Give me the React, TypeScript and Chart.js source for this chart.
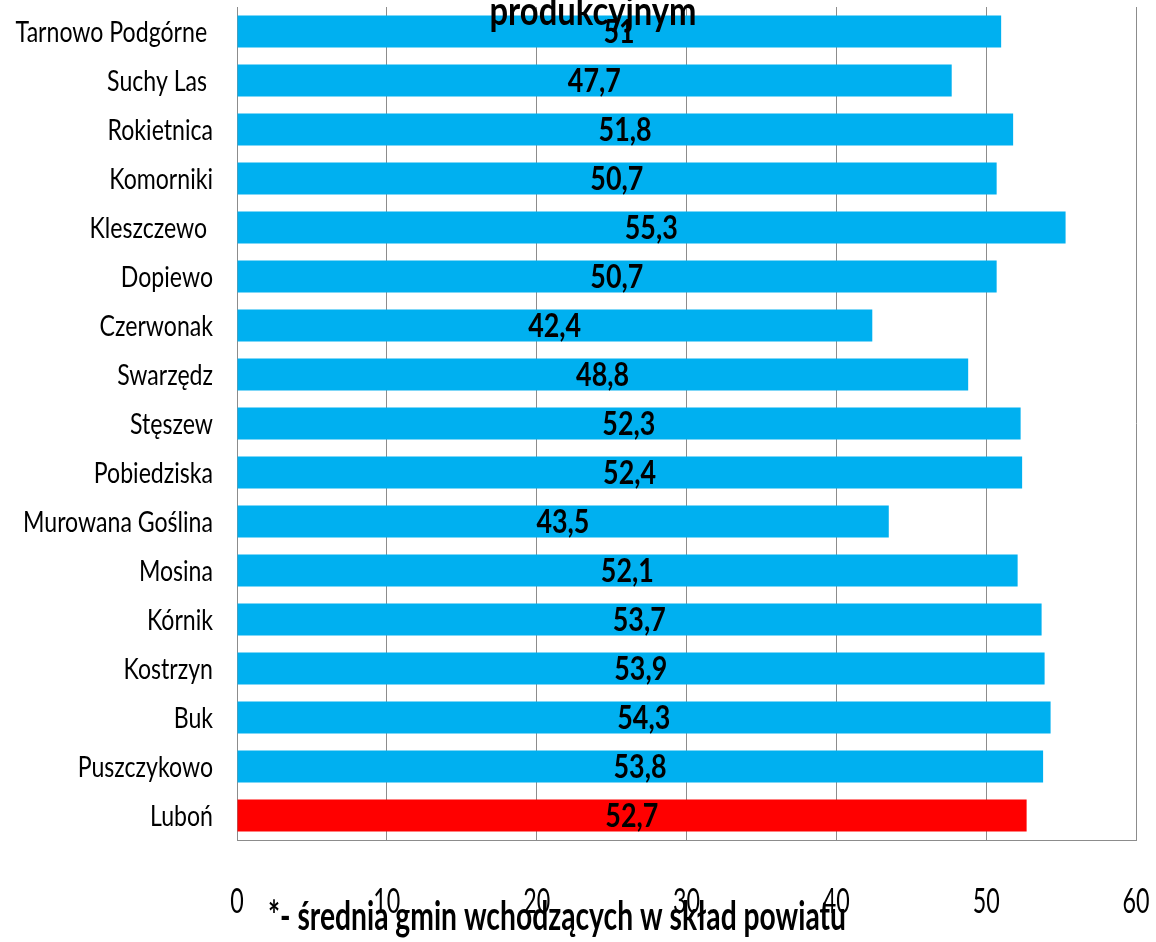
import React, { useEffect, useRef } from "react";
import { Chart, registerables } from "chart.js";

Chart.register(...registerables);

const categories = [
  "Tarnowo Podgórne ",
  "Suchy Las ",
  "Rokietnica",
  "Komorniki",
  "Kleszczewo ",
  "Dopiewo",
  "Czerwonak",
  "Swarzędz",
  "Stęszew",
  "Pobiedziska",
  "Murowana Goślina",
  "Mosina",
  "Kórnik",
  "Kostrzyn",
  "Buk",
  "Puszczykowo",
  "Luboń",
];

const values = [51, 47.7, 51.8, 50.7, 55.3, 50.7, 42.4, 48.8, 52.3, 52.4, 43.5, 52.1, 53.7, 53.9, 54.3, 53.8, 52.7];

const highlighted = "Luboń";
const titleText = "produkcyjnym";
const footerText = "*- średnia gmin wchodzących w skład powiatu";
const xMin = 0;
const xMax = 60;
const xStep = 10;

const FONT = "Lato, 'Noto Sans', sans-serif";

const fmt = (v: number) => String(v).replace(".", ",");

// draw text horizontally condensed so that the sample string gets the target width
function squishFactor(ctx: CanvasRenderingContext2D, font: string, sample: string, target: number) {
  ctx.save();
  ctx.font = font;
  const w = ctx.measureText(sample).width;
  ctx.restore();
  return w > 0 ? target / w : 1;
}

function drawSquished(
  ctx: CanvasRenderingContext2D,
  text: string,
  x: number,
  y: number,
  font: string,
  sx: number,
  align: CanvasTextAlign
) {
  ctx.save();
  ctx.font = font;
  ctx.textAlign = align;
  ctx.textBaseline = "alphabetic";
  ctx.translate(x, y);
  ctx.scale(sx, 1);
  ctx.fillText(text, 0, 0);
  ctx.restore();
}

const textPlugin = {
  id: "texts",
  afterDatasetsDraw(chart: any) {
    const ctx: CanvasRenderingContext2D = chart.ctx;
    const meta = chart.getDatasetMeta(0);
    const xs = chart.scales.x;
    const ys = chart.scales.y;
    ctx.save();
    ctx.fillStyle = "#000";

    // value labels in bar centres
    const vFont = `bold 32px ${FONT}`;
    const vs = squishFactor(ctx, vFont, "47,7", 53);
    meta.data.forEach((bar: any, i: number) => {
      const x0 = xs.getPixelForValue(0);
      drawSquished(ctx, fmt(values[i]), (bar.x + x0) / 2, bar.y + 11.5, vFont, vs, "center");
    });

    // category labels
    const cFont = `29px ${FONT}`;
    const cs = squishFactor(ctx, cFont, "Murowana Goślina", 190);
    ys.ticks.forEach((t: any, i: number) => {
      const y = ys.getPixelForTick(i);
      drawSquished(ctx, String(ys.getLabelForValue(t.value)), ys.right - 24, y + 10.5, cFont, cs, "right");
    });

    // x tick labels
    const tFont = `35px ${FONT}`;
    const ts = squishFactor(ctx, tFont, "50", 27);
    xs.ticks.forEach((t: any, i: number) => {
      const x = xs.getPixelForTick(i);
      drawSquished(ctx, String(t.value), x, 913, tFont, ts, "center");
    });

    // title fragment (cut off at the top) and footnote
    const hFont = `bold 40px ${FONT}`;
    drawSquished(ctx, titleText, 593, 25, hFont, squishFactor(ctx, hFont, titleText, 207), "center");
    const fFont = `bold 40px ${FONT}`;
    drawSquished(ctx, footerText, 268, 930, fFont, squishFactor(ctx, fFont, footerText, 578), "left");
    ctx.restore();
  },
};

export default function App() {
  const ref = useRef<HTMLCanvasElement>(null);
  useEffect(() => {
    document.body.style.margin = "0";
    const chart = new Chart(ref.current!, {
      type: "bar",
      data: {
        labels: categories,
        datasets: [
          {
            data: values,
            backgroundColor: categories.map((c) => (c === highlighted ? "#FF0000" : "#00B0F0")),
            borderWidth: 0,
            categoryPercentage: 1,
            barPercentage: 0.65,
          },
        ],
      },
      options: {
        indexAxis: "y",
        animation: false,
        responsive: false,
        layout: { padding: { top: 7, right: 20, left: 0, bottom: 0 } },
        plugins: { legend: { display: false }, tooltip: { enabled: false }, title: { display: false } },
        scales: {
          x: {
            min: xMin,
            max: xMax,
            ticks: { stepSize: xStep, display: false },
            grid: { color: "#8c8c8c", drawTicks: false, lineWidth: 1 },
            border: { color: "#8c8c8c" },
            afterFit: (s: any) => {
              s.height = 102;
              s.paddingLeft = 0;
              s.paddingRight = 0;
            },
          },
          y: {
            ticks: { display: false, autoSkip: false },
            grid: { display: false, drawTicks: false },
            border: { color: "#8c8c8c" },
            afterFit: (s: any) => {
              s.width = 237;
              s.paddingTop = 0;
              s.paddingBottom = 0;
            },
          },
        },
      },
      plugins: [textPlugin],
    });
    return () => chart.destroy();
  }, []);
  return (
    <div style={{ position: "absolute", left: 0, top: 0, width: 1156, height: 942 }}>
      <canvas ref={ref} width={1156} height={942} />
    </div>
  );
}
